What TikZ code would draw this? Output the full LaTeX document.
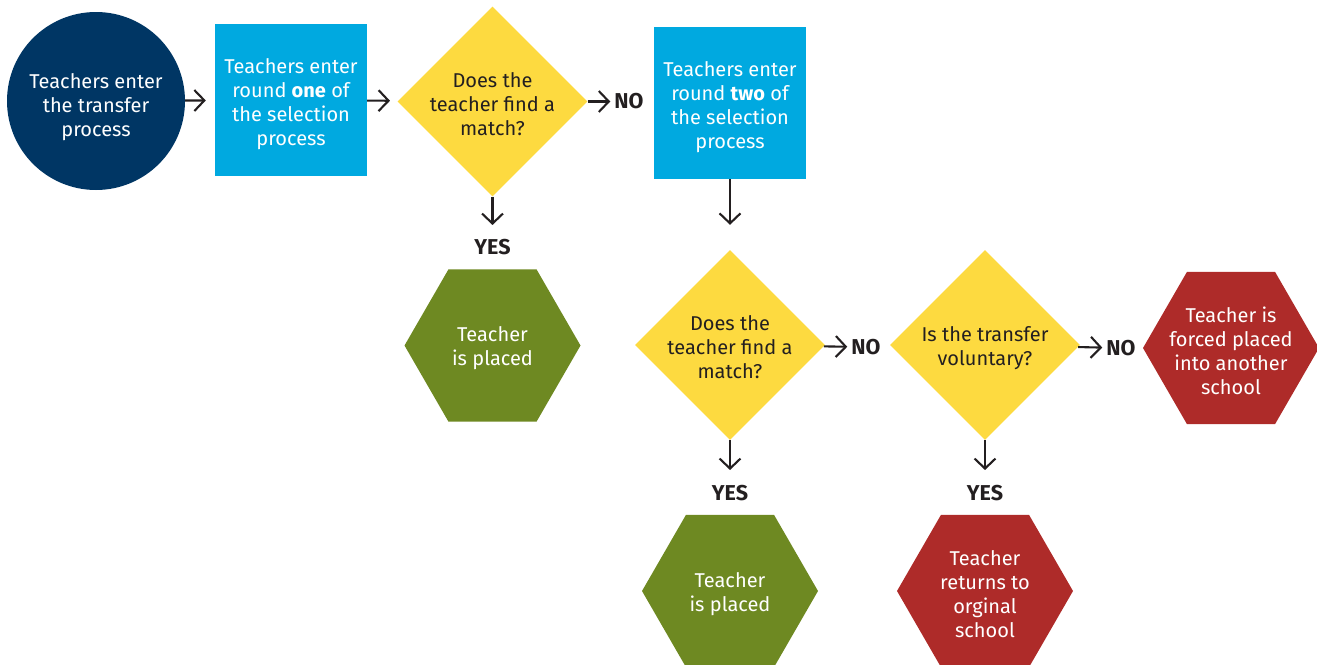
\documentclass[tikz,border=0pt]{standalone}
\usepackage{fontspec}
\setmainfont{Fira Sans}
\usetikzlibrary{shapes.geometric,arrows.meta}

\definecolor{navy}{RGB}{0,54,100}
\definecolor{skyblue}{RGB}{0,169,224}
\definecolor{sun}{RGB}{253,218,64}
\definecolor{leafgreen}{RGB}{110,137,34}
\definecolor{brickred}{RGB}{174,43,41}
\definecolor{ink}{RGB}{35,31,32}

\def\hexsize{176pt}
\def\diasize{190pt}
% taller first line: sets the text a little lower in its shape
\newcommand{\drop}[1]{\rule{0pt}{#1}}

\begin{document}
\begin{tikzpicture}[x=1pt,y=-1pt,
    font=\fontsize{20}{24}\selectfont,
    start/.style={circle,fill=navy,text=white,minimum size=178pt,inner sep=0pt,align=center},
    roundbox/.style={rectangle,fill=skyblue,text=white,minimum width=152pt,minimum height=152pt,inner sep=0pt,align=center},
    question/.style={diamond,fill=sun,text=ink,minimum width=\diasize,minimum height=\diasize,inner sep=-16pt,align=center},
    outcome/.style={regular polygon,regular polygon sides=6,text=white,minimum size=\hexsize,inner sep=-18pt,align=center},
    answer/.style={text=ink,font=\fontsize{21.5}{24}\selectfont\bfseries,inner sep=4pt},
    flow/.style={draw=ink,line width=2.1pt,-{Straight Barb[length=10pt,width=21pt,line width=2.1pt]}}]
        \useasboundingbox (0,0) rectangle (1317,664);
        % first row
        \node[start] (enter) at (96,101) {\drop{28pt}Teachers enter\\the transfer\\process};
        \node[roundbox] (round1) at (291,100) {\drop{24pt}Teachers enter\\round \textbf{one} of\\the selection\\process};
        \node[question] (match1) at (492.5,101.5) {\drop{20pt}Does the\\teacher find a\\match?};
        \node[answer] (no1) at (629,101.5) {NO};
        \node[roundbox] (round2) at (730,103) {\drop{24pt}Teachers enter\\round \textbf{two} of\\the selection\\process};
        % first answer yes
        \node[answer] (yes1) at (492.5,247) {YES};
        \node[outcome,fill=leafgreen] (placed1) at (492.5,345.5) {\drop{21pt}Teacher\\is placed};
        % second round
        \node[question] (match2) at (730,345) {\drop{20pt}Does the\\teacher find a\\match?};
        \node[answer] (no2) at (866,347) {NO};
        \node[question] (volunt) at (985,345) {\drop{21pt}Is the transfer\\voluntary?};
        \node[answer] (no3) at (1121,348) {NO};
        \node[outcome,fill=brickred] (forced) at (1231,348) {\drop{22pt}Teacher is\\forced placed\\into another\\school};
        % bottom row
        \node[answer] (yes2) at (730,493) {YES};
        \node[outcome,fill=leafgreen] (placed2) at (730,591) {\drop{21pt}Teacher\\is placed};
        \node[answer] (yes3) at (985,493) {YES};
        \node[outcome,fill=brickred] (back) at (985,591) {\drop{22pt}Teacher\\returns to\\orginal\\school};
        % connectors
        \draw[flow,shorten >=9pt] (enter) -- (round1);
        \draw[flow,shorten >=8pt] (round1) -- (match1);
        \draw[flow] (match1) -- (no1);
        \draw[flow,shorten >=10pt] (match1) -- (yes1);
        \draw[flow,shorten >=25pt] (round2) -- (match2);
        \draw[flow] (match2) -- (no2);
        \draw[flow,shorten >=11pt] (match2) -- (yes2);
        \draw[flow] (volunt) -- (no3);
        \draw[flow,shorten >=11pt] (volunt) -- (yes3);
\end{tikzpicture}
\end{document}
